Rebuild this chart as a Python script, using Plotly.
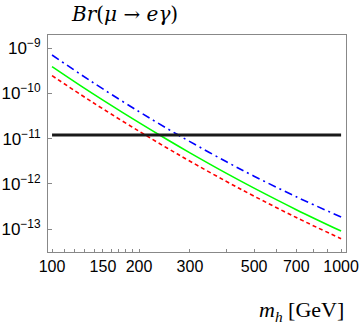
import plotly.graph_objects as go

# Higgs mass (GeV)
m_h = [100, 125, 150, 200, 250, 300, 400, 500, 700, 1000]

# Br(mu -> e gamma) curves
br_blue = [7.11e-10, 2.70e-10, 1.26e-10, 3.96e-11, 1.68e-11, 8.59e-12, 3.12e-12, 1.48e-12, 5.18e-13, 1.85e-13]
br_green = [3.92e-10, 1.51e-10, 7.12e-11, 2.26e-11, 9.57e-12, 4.86e-12, 1.73e-12, 8.05e-13, 2.69e-13, 9.04e-14]
br_red = [2.48e-10, 9.64e-11, 4.56e-11, 1.46e-11, 6.22e-12, 3.18e-12, 1.14e-12, 5.35e-13, 1.80e-13, 6.12e-14]

# experimental bound
bound_x = [100, 1000]
bound_y = [1.2e-11, 1.2e-11]

# axis ticks
x_major = [100, 150, 200, 300, 500, 700, 1000]
x_minor = [110, 120, 130, 140, 160, 170, 180, 190, 400, 600, 800, 900]
y_ticks = [1e-9, 1e-10, 1e-11, 1e-12, 1e-13]
y_text = ["10<sup>\u22129</sup>", "10<sup>\u221210</sup>", "10<sup>\u221211</sup>",
          "10<sup>\u221212</sup>", "10<sup>\u221213</sup>"]

fig = go.Figure()
fig.add_trace(go.Scatter(x=m_h, y=br_blue, mode="lines", line_shape="spline",
                         line=dict(color="#0000ff", width=1.6, dash="8px,4px,2px,4px")))
fig.add_trace(go.Scatter(x=m_h, y=br_green, mode="lines", line_shape="spline",
                         line=dict(color="#00ff00", width=1.6)))
fig.add_trace(go.Scatter(x=m_h, y=br_red, mode="lines", line_shape="spline",
                         line=dict(color="#ff0000", width=1.6, dash="4px,3px")))
fig.add_trace(go.Scatter(x=bound_x, y=bound_y, mode="lines",
                         line=dict(color="#1a1a1a", width=3)))

fig.update_layout(
    width=360, height=327,
    margin=dict(l=48, r=14, t=35, b=75),
    paper_bgcolor="white", plot_bgcolor="white",
    showlegend=False,
    xaxis=dict(type="log", range=[1.986, 3.017], tickvals=x_major,
               ticktext=[str(v) for v in x_major], automargin=False,
               ticks="inside", ticklen=3, tickcolor="#888888", showgrid=False, zeroline=False,
               showline=True, linecolor="#888888", linewidth=1, mirror=True,
               minor=dict(tickvals=x_minor, ticks="inside", ticklen=3, tickcolor="#888888",
                          showgrid=False),
               tickfont=dict(family="Liberation Sans, Arial, sans-serif", size=16, color="black")),
    yaxis=dict(type="log", range=[-13.507, -8.706], tickvals=y_ticks, ticktext=y_text,
               automargin=False,
               ticks="inside", ticklen=4, tickcolor="#888888", showgrid=False, zeroline=False,
               showline=True, linecolor="#888888", linewidth=1, mirror=True,
               ticklabelstandoff=3,
               tickfont=dict(family="Liberation Sans, Arial, sans-serif", size=17, color="black")),
    annotations=[
        dict(text="<i>Br</i>(<i>\u03bc</i> \u2192 <i>e\u03b3</i>)", xref="paper", yref="paper",
             x=0.258, y=1.095, xanchor="center", yanchor="middle", showarrow=False,
             font=dict(family="DejaVu Serif, Liberation Serif, serif", size=20, color="black")),
        dict(text="<i>m</i><sub><i>h</i></sub> [GeV]", xref="paper", yref="paper",
             x=1.0, y=-0.27, xanchor="right", yanchor="middle", showarrow=False,
             font=dict(family="Liberation Serif, DejaVu Serif, serif", size=22, color="black")),
    ],
)

fig.write_html("out.html", config={"displayModeBar": False},
               post_script="document.body.style.margin='0';document.body.style.padding='0';")
